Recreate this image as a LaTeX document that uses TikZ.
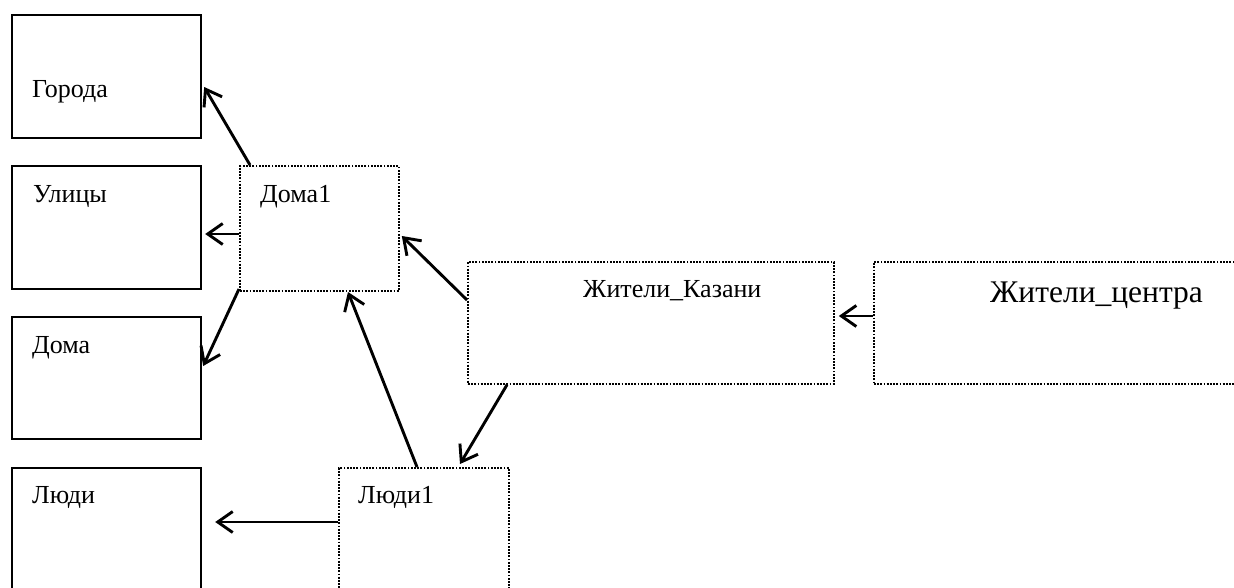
\documentclass[tikz,border=0pt]{standalone}
\usepackage{fontspec}
\setmainfont{Liberation Serif}
\newfontfamily\tnrfont{Liberation Serif}
\usetikzlibrary{arrows.meta,calc}
\tikzset{
  solidbox/.style={draw=black, line width=2.2pt, minimum width=189pt, minimum height=123pt, anchor=north west, inner sep=0pt},
  dotbox/.style={draw=black, line width=1.8pt, dash pattern=on 1.8pt off 1.4pt, anchor=north west, inner sep=0pt},
  lbl/.style={anchor=base west, inner sep=0pt, font=\tnrfont\fontsize{26}{30}\selectfont},
  biglbl/.style={anchor=base west, inner sep=0pt, font=\tnrfont\fontsize{31.5}{36}\selectfont},
  conn/.style={line width=2.9pt, -{Straight Barb[length=15pt, width=21pt, line width=2.9pt]}}
}
\begin{document}
\begin{tikzpicture}[x=1pt, y=-1pt]
\clip (0,0) rectangle (1234,587);
\fill[white] (0,0) rectangle (1234,587);
% left solid boxes
\node[solidbox] (goroda) at (11,14) {};
\node[solidbox] (ulicy) at (11,165) {};
\node[solidbox, minimum height=122pt] (doma) at (11,316) {};
\node[solidbox, minimum height=140pt] (ludi) at (11,467) {};
% dotted boxes
\node[dotbox, minimum width=159pt, minimum height=125pt] (d1) at (239,165) {};
\node[dotbox, minimum width=366pt, minimum height=122pt] (zk) at (467,261) {};
\node[dotbox, minimum width=380pt, minimum height=122pt] (zc) at (873,261) {};
\node[dotbox, minimum width=170pt, minimum height=140pt] (l1) at (338,467) {};
% texts
\node[lbl] (tgoroda) at (32,97) {Города};
\node[lbl] (tulicy) at (33,202) {Улицы};
\node[lbl] (tdoma) at (32,353) {Дома};
\node[lbl] (tludi) at (32,503) {Люди};
\node[lbl] (td1) at (260,202) {Дома1};
\node[lbl] (tl1) at (358,503) {Люди1};
\node[lbl] (tzk) at (583,297) {Жители\_Казани};
\node[biglbl] (tzc) at (990,302) {Жители\_центра};
% connectors
\draw[conn] ($(d1.north west)+(11,0)$) -- ($(goroda.north east)+(2,73)$);
\draw[conn] ($(d1.north west)+(0,69)$) -- ($(ulicy.north east)+(3,69)$);
\draw[conn] ($(d1.north west)+(0,124)$) -- ($(doma.north east)+(1,50)$);
\draw[conn] ($(zk.north west)+(0,39)$) -- ($(d1.north east)+(2,71)$);
\draw[conn] ($(l1.north west)+(79,0)$) -- ($(d1.north west)+(109,127)$);
\draw[conn] ($(zk.south west)+(40,0)$) -- ($(l1.north west)+(122,-3)$);
\draw[conn] ($(zc.north west)+(0,55)$) -- ($(zk.north east)+(4,55)$);
\draw[conn] ($(l1.north west)+(0,55)$) -- ($(ludi.north east)+(13,55)$);
\end{tikzpicture}
\end{document}
